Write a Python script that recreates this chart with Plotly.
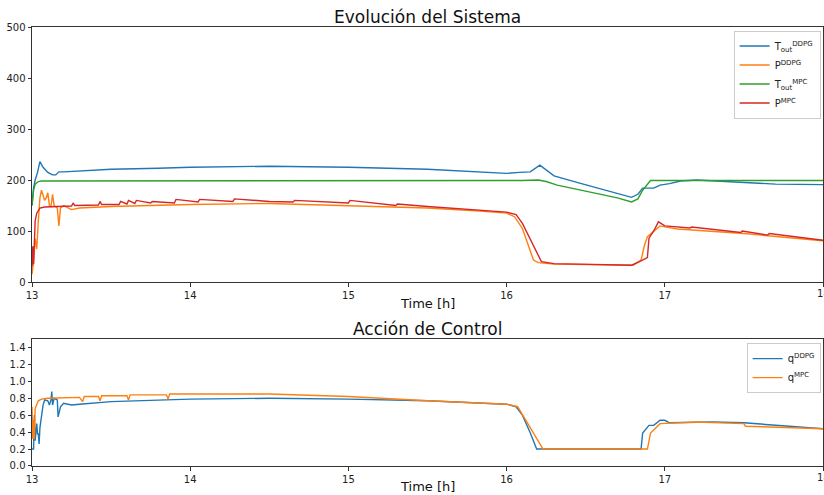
import plotly.graph_objects as go

# ---------------- Data ----------------
t_T_ddpg = [13.0, 13.01, 13.02, 13.035, 13.05, 13.07, 13.1, 13.13, 13.15, 13.17, 13.2, 13.3, 13.5, 13.8,
            14.0, 14.5, 15.0, 15.5, 15.83, 16.0, 16.08, 16.15, 16.21, 16.25, 16.3, 16.45, 16.65, 16.79,
            16.83, 16.86, 16.93, 16.97, 17.03, 17.1, 17.2, 17.48, 17.7, 18.0]
T_ddpg = [150, 185, 200, 215, 236, 225, 215, 210, 210, 216, 216, 218, 221, 223,
          225, 227, 225, 221, 216, 213, 215, 216, 229, 220, 208, 195, 178, 166,
          172, 184, 184, 190, 193, 198, 200, 196, 192, 191]

t_P_ddpg = [13.0, 13.01, 13.02, 13.03, 13.04, 13.05, 13.06, 13.07, 13.08, 13.09, 13.1, 13.11, 13.12,
            13.13, 13.14, 13.16, 13.17, 13.18, 13.2, 13.25, 13.3, 13.5, 14.0, 14.5, 15.0, 15.5, 15.83,
            16.0, 16.05, 16.1, 16.17, 16.2, 16.3, 16.5, 16.8, 16.85, 16.87, 16.89, 16.93, 16.97, 17.0,
            17.08, 17.5, 18.0]
P_ddpg = [15, 40, 85, 65, 120, 165, 180, 170, 160, 165, 175, 150, 148,
          172, 150, 145, 110, 145, 150, 142, 145, 148, 152, 154, 150, 145, 139,
          135, 128, 105, 43, 38, 35, 34, 33, 43, 70, 89, 100, 110, 108,
          104, 95, 81]

t_T_mpc = [13.0, 13.01, 13.02, 13.04, 13.06, 13.1, 13.5, 14.0, 14.5, 15.0, 15.5, 16.0, 16.1, 16.2,
           16.25, 16.32, 16.5, 16.7, 16.79, 16.83, 16.86, 16.91, 17.0, 17.5, 18.0]
T_mpc = [150, 180, 192, 197, 198, 198, 198, 198, 198, 198, 198, 198, 199, 200,
         197, 190, 178, 165, 157, 163, 180, 199, 199, 199, 199]

t_P_mpc = [13.0, 13.005, 13.01, 13.015, 13.02, 13.03, 13.05, 13.08, 13.15, 13.25, 13.26, 13.27,
           13.42, 13.43, 13.44, 13.55, 13.56, 13.6, 13.61, 13.65, 13.66, 13.75, 13.76, 13.9, 13.91,
           14.05, 14.06, 14.27, 14.28, 14.5, 14.65, 14.66, 15.0, 15.01, 15.3, 15.31, 15.5, 15.83,
           16.0, 16.06, 16.1, 16.22, 16.3, 16.46, 16.79, 16.84, 16.89, 16.9, 16.93, 16.95, 16.96,
           17.0, 17.16, 17.17, 17.48, 17.49, 17.65, 17.66, 18.0]
P_mpc = [30, 70, 35, 100, 120, 135, 145, 147, 148, 149, 155, 150,
         151, 158, 152, 152, 158, 153, 160, 154, 160, 155, 158, 155, 162,
         157, 162, 158, 163, 158, 157, 160, 155, 160, 150, 153, 148, 141,
         137, 132, 115, 40, 36, 35, 33, 40, 48, 86, 100, 112, 118,
         110, 106, 108, 97, 100, 92, 95, 82]

t_q_ddpg = [13.0, 13.01, 13.015, 13.02, 13.03, 13.035, 13.04, 13.045, 13.05, 13.06, 13.07, 13.08,
            13.1, 13.11, 13.12, 13.125, 13.13, 13.14, 13.16, 13.165, 13.18, 13.2, 13.25, 13.3, 13.5,
            14.0, 14.5, 15.0, 15.5, 16.0, 16.06, 16.1, 16.15, 16.19, 16.85, 16.86, 16.9, 16.93,
            16.97, 17.0, 17.03, 17.3, 17.5, 18.0]
q_ddpg = [0.2, 0.2, 0.6, 0.3, 0.5, 0.38, 0.38, 0.26, 0.45, 0.62, 0.72, 0.78,
          0.77, 0.72, 0.78, 0.88, 0.72, 0.8, 0.78, 0.58, 0.7, 0.74, 0.72, 0.73, 0.76,
          0.79, 0.80, 0.79, 0.77, 0.73, 0.70, 0.6, 0.39, 0.2, 0.2, 0.39, 0.48, 0.48,
          0.54, 0.54, 0.51, 0.52, 0.51, 0.44]

t_q_mpc = [13.0, 13.005, 13.01, 13.015, 13.02, 13.03, 13.04, 13.06, 13.1, 13.3, 13.32, 13.33,
           13.42, 13.43, 13.44, 13.6, 13.61, 13.62, 13.85, 13.86, 13.87, 14.0, 14.5, 15.0, 15.5,
           16.0, 16.07, 16.23, 16.89, 16.91, 16.97, 17.2, 17.5, 17.51, 18.0]
q_mpc = [0.7, 0.32, 0.55, 0.32, 0.68, 0.72, 0.77, 0.79, 0.8, 0.81, 0.76, 0.82,
         0.82, 0.77, 0.83, 0.83, 0.78, 0.84, 0.84, 0.79, 0.85, 0.85, 0.85, 0.82, 0.77,
         0.73, 0.70, 0.2, 0.2, 0.39, 0.5, 0.52, 0.5, 0.47, 0.44]

x_ticks = [13, 14, 15, 16, 17, 18]

# ---------------- Figure ----------------
C_BLUE, C_ORANGE, C_GREEN, C_RED = "#1f77b4", "#ff7f0e", "#2ca02c", "#d62728"
LW = 1.4

fig = go.Figure()
fig.add_trace(go.Scatter(x=t_T_ddpg, y=T_ddpg, mode="lines", line=dict(color=C_BLUE, width=LW),
                         name="T<sub>out</sub><sup>DDPG</sup>", xaxis="x", yaxis="y", legend="legend"))
fig.add_trace(go.Scatter(x=t_P_ddpg, y=P_ddpg, mode="lines", line=dict(color=C_ORANGE, width=LW),
                         name="P<sup>DDPG</sup>", xaxis="x", yaxis="y", legend="legend"))
fig.add_trace(go.Scatter(x=t_T_mpc, y=T_mpc, mode="lines", line=dict(color=C_GREEN, width=LW),
                         name="T<sub>out</sub><sup>MPC</sup>", xaxis="x", yaxis="y", legend="legend"))
fig.add_trace(go.Scatter(x=t_P_mpc, y=P_mpc, mode="lines", line=dict(color=C_RED, width=LW),
                         name="P<sup>MPC</sup>", xaxis="x", yaxis="y", legend="legend"))
fig.add_trace(go.Scatter(x=t_q_ddpg, y=q_ddpg, mode="lines", line=dict(color=C_BLUE, width=LW),
                         name="q<sup>DDPG</sup>", xaxis="x2", yaxis="y2", legend="legend2"))
fig.add_trace(go.Scatter(x=t_q_mpc, y=q_mpc, mode="lines", line=dict(color=C_ORANGE, width=LW),
                         name="q<sup>MPC</sup>", xaxis="x2", yaxis="y2", legend="legend2"))

axis_common = dict(showline=True, mirror=True, linecolor="#333", linewidth=1, ticks="outside",
                   ticklen=3.5, tickcolor="#333", showgrid=False, zeroline=False,
                   tickfont=dict(size=10, color="#222"))

annotations = [
    dict(text="Evolución del Sistema", x=0.5, y=1.0228, xref="paper", yref="paper",
         showarrow=False, font=dict(size=17, color="#111"), yanchor="middle"),
    dict(text="Acción de Control", x=0.5, y=0.312, xref="paper", yref="paper",
         showarrow=False, font=dict(size=17, color="#111"), yanchor="middle"),
    dict(text="Time [h]", x=0.5, y=0.371, xref="paper", yref="paper",
         showarrow=False, font=dict(size=13, color="#111"), yanchor="middle"),
    dict(text="Time [h]", x=0.5, y=-0.0478, xref="paper", yref="paper",
         showarrow=False, font=dict(size=13, color="#111"), yanchor="middle"),
]
# last tick label (18) sits at the right edge of the page and is cut off, as in the reference
for xr, yr in (("x", "y"), ("x2", "y2")):
    annotations.append(dict(text=str(x_ticks[-1]), x=x_ticks[-1], y=0, xref=xr, yref=yr + " domain",
                            yanchor="top", yshift=-4, showarrow=False, font=dict(size=10, color="#222")))

fig.update_layout(
    width=824, height=495,
    margin=dict(l=32, r=1, t=27, b=29),
    paper_bgcolor="white", plot_bgcolor="white",
    font=dict(family="DejaVu Sans", color="#222"),
    xaxis=dict(domain=[0, 1], anchor="y", range=[13, 18], tickvals=x_ticks, **axis_common),
    yaxis=dict(domain=[0.4191, 1], anchor="x", range=[0, 500], tickvals=[0, 100, 200, 300, 400, 500], **axis_common),
    xaxis2=dict(domain=[0, 1], anchor="y2", range=[13, 18], tickvals=x_ticks, **axis_common),
    yaxis2=dict(domain=[0, 0.2893], anchor="x2", range=[0, 1.5], tickvals=[0, 0.2, 0.4, 0.6, 0.8, 1.0, 1.2, 1.4],
                tickformat=".1f", **axis_common),
    legend=dict(x=0.997, y=0.992, xanchor="right", yanchor="top", bgcolor="rgba(255,255,255,0.8)",
                bordercolor="#ccc", borderwidth=1, font=dict(size=10), tracegroupgap=0, itemwidth=30),
    legend2=dict(x=0.997, y=0.28, xanchor="right", yanchor="top", bgcolor="rgba(255,255,255,0.8)",
                 bordercolor="#ccc", borderwidth=1, font=dict(size=10), itemwidth=30),
    annotations=annotations,
)

fig.write_html("out.html")
